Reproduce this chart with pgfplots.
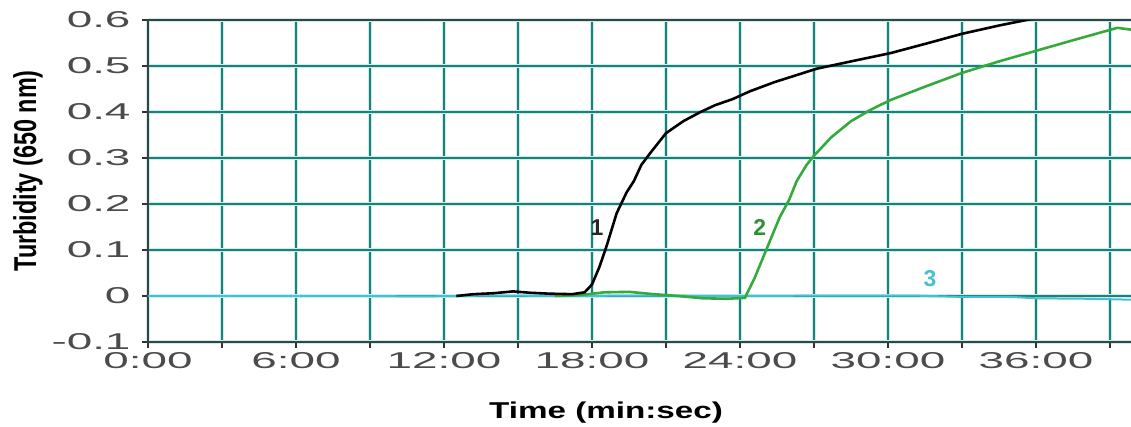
\documentclass[border=0pt]{standalone}
\usepackage{fontspec}
\setmainfont{Liberation Sans}
\newfontfamily\tickfont[FakeStretch=2.0]{Liberation Sans}
\newfontfamily\xlabfont[FakeStretch=1.45]{Liberation Sans}
\usepackage{pgfplots}
\pgfplotsset{compat=1.18}
\definecolor{gridteal}{RGB}{35,125,115}
\definecolor{gridhalo}{RGB}{195,240,240}
\definecolor{curvegreen}{RGB}{52,170,60}
\definecolor{curvecyan}{RGB}{72,190,210}
\definecolor{ticklab}{RGB}{75,75,75}
\begin{document}
\begin{tikzpicture}
\begin{axis}[
  scale only axis,
  width=999bp, height=322bp,
  xmin=0, xmax=40.5,
  ymin=-0.1, ymax=0.6,
  clip mode=individual,
  axis line style={draw=black!75, line width=1.6pt},
  xtick={0,3,...,39},
  xticklabels={0:00,,6:00,,12:00,,18:00,,24:00,,30:00,,36:00,},
  ytick={-0.1,0,0.1,0.2,0.3,0.4,0.5,0.6},
  yticklabels={-0.1,0,0.1,0.2,0.3,0.4,0.5,0.6},
  tick align=outside,
  major tick length=6bp,
  tick style={draw=black!80, line width=1.6pt},
  xtick pos=bottom, ytick pos=left,
  grid=major,
  major grid style={draw=gridhalo, line width=1.2pt, double=gridteal, double distance=2pt},
  ticklabel style={font=\tickfont\fontsize{23}{23}\selectfont, text=ticklab},
  xticklabel style={yshift=-1bp},
  yticklabel style={xshift=-8bp},
]
\addplot[curvecyan, line width=2pt] coordinates {
(0,0) (9,0) (11,-0.001) (14,0.001) (17,0) (20,0.001) (24,0) (28,0.001) (31,0.001) (33,-0.002) (35,-0.002) (36,-0.005) (38,-0.006) (39.85,-0.008)
};
\addplot[curvegreen, line width=2.6pt] coordinates {
(16.5,0) (17.5,0.002) (18.5,0.008) (19.5,0.009) (20.5,0.004) (21.5,0.0) (22.5,-0.005) (23.5,-0.006) (24.2,-0.004)
(24.6,0.04) (25.1,0.105) (25.6,0.17) (26.0,0.21) (26.3,0.25) (26.7,0.285) (27.0,0.305)
(27.7,0.345) (28.5,0.38) (29.3,0.405) (30.1,0.426) (31.5,0.455) (33.0,0.485) (34.5,0.51) (36.0,0.533) (37.5,0.556) (38.7,0.574) (39.3,0.583) (39.85,0.579)
};
\addplot[black, line width=2.6pt] coordinates {
(12.5,0) (13.2,0.004) (14,0.006) (14.8,0.01) (15.5,0.007) (16.3,0.005) (17.2,0.004) (17.7,0.008)
(18.0,0.025) (18.3,0.063) (18.6,0.11) (19.0,0.18) (19.4,0.225) (19.7,0.25) (20.0,0.285) (20.35,0.31)
(21.0,0.354) (21.7,0.38) (22.4,0.40) (23.0,0.415) (23.7,0.428) (24.4,0.445) (25.4,0.465) (26.4,0.482) (27.1,0.494)
(28.5,0.51) (30.1,0.528) (31.5,0.548) (33.0,0.57) (34.5,0.588) (35.8,0.602) (36.8,0.605)
};
\node[font=\bfseries\fontsize{23}{23}\selectfont, text=black!85] at (axis cs:18.2,0.148) {1};
\node[font=\bfseries\fontsize{23}{23}\selectfont, text=curvegreen!85!black] at (axis cs:24.8,0.148) {2};
\node[font=\bfseries\fontsize{23}{23}\selectfont, text=curvecyan] at (axis cs:31.7,0.037) {3};
\node[font=\xlabfont\bfseries\fontsize{23}{23}\selectfont] at ([yshift=-71bp]axis cs:18.57,-0.1) {Time (min:sec)};
\node[font=\bfseries\fontsize{23.5}{23.5}\selectfont, rotate=90] at ([xshift=-120bp]axis cs:0,0.272) {\scalebox{1}[1.35]{Turbidity (650 nm)}};
\coordinate (bl) at (rel axis cs:0,0);
\end{axis}
\pgfresetboundingbox
\path[use as bounding box] ([xshift=-148bp,yshift=-85bp]bl) rectangle ([xshift=983bp,yshift=342bp]bl);
\end{tikzpicture}
\end{document}
